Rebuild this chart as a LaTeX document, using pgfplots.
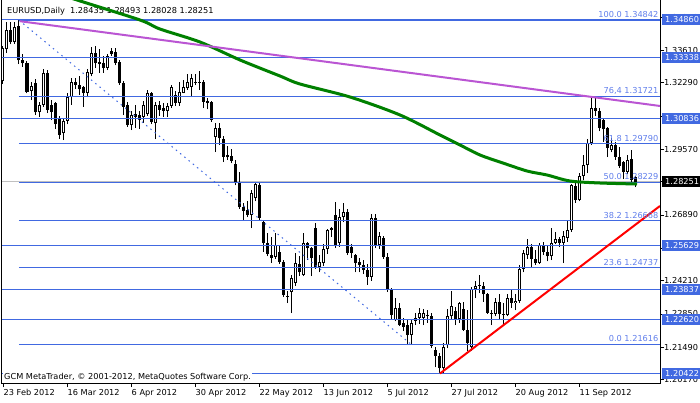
\documentclass[border=0pt]{standalone}
\usepackage{pgfplots}
\pgfplotsset{compat=1.18}
\usepackage{pgfplotstable}
\usepackage{fontspec}
\setmainfont{DejaVu Sans}
\definecolor{rblue}{RGB}{65,105,225}
\definecolor{fibtext}{RGB}{95,125,235}
\definecolor{maG}{RGB}{0,128,0}
\definecolor{orchid}{RGB}{186,85,211}
\definecolor{bidgray}{RGB}{192,192,192}
\pgfplotstableread{
I O H L C
0 1.3235 1.3380 1.3225 1.3370
1 1.3365 1.3475 1.3350 1.3445
2 1.3445 1.3478 1.3385 1.3395
3 1.3395 1.3478 1.3388 1.3455
4 1.3460 1.3486 1.3305 1.3320
5 1.3320 1.3345 1.3295 1.3308
6 1.3308 1.3318 1.3185 1.3193
7 1.3195 1.3232 1.3158 1.3215
8 1.3228 1.3245 1.3098 1.3108
9 1.3108 1.3150 1.3090 1.3140
10 1.3140 1.3285 1.3130 1.3268
11 1.3268 1.3280 1.3105 1.3118
12 1.3140 1.3160 1.3076 1.3110
13 1.3145 1.3150 1.3040 1.3060
14 1.3085 1.3095 1.3000 1.3016
15 1.3022 1.3085 1.2995 1.3074
16 1.3074 1.3185 1.3060 1.3169
17 1.3172 1.3250 1.3140 1.3233
18 1.3233 1.3250 1.3205 1.3220
19 1.3220 1.3255 1.3180 1.3202
20 1.3210 1.3215 1.3130 1.3188
21 1.3188 1.3285 1.3170 1.3274
22 1.3265 1.3376 1.3255 1.3349
23 1.3349 1.3380 1.3290 1.3308
24 1.3315 1.3365 1.3270 1.3305
25 1.3311 1.3340 1.3270 1.3290
26 1.3290 1.3345 1.3280 1.3338
27 1.3360 1.3370 1.3340 1.3346
28 1.3356 1.3370 1.3300 1.3311
29 1.3315 1.3320 1.3220 1.3226
30 1.3229 1.3235 1.3097 1.3131
31 1.3138 1.3150 1.3050 1.3056
32 1.3056 1.3115 1.3035 1.3097
33 1.3101 1.3140 1.3045 1.3090
34 1.3097 1.3115 1.3040 1.3077
35 1.3090 1.3155 1.3065 1.3138
36 1.3101 1.3200 1.3095 1.3185
37 1.3185 1.3190 1.3060 1.3070
38 1.3063 1.3150 1.2999 1.3138
39 1.3138 1.3155 1.3095 1.3118
40 1.3126 1.3145 1.3090 1.3115
41 1.3115 1.3145 1.3090 1.3134
42 1.3134 1.3220 1.3125 1.3210
43 1.3178 1.3195 1.3135 1.3147
44 1.3147 1.3230 1.3135 1.3192
45 1.3188 1.3240 1.3185 1.3210
46 1.3206 1.3265 1.3200 1.3233
47 1.3213 1.3265 1.3170 1.3247
48 1.3232 1.3265 1.3218 1.3228
49 1.3230 1.3275 1.3200 1.3228
50 1.3233 1.3238 1.3125 1.3151
51 1.3154 1.3165 1.3120 1.3146
52 1.3150 1.3155 1.3070 1.3076
53 1.3007 1.3065 1.2946 1.3044
54 1.3044 1.3065 1.2975 1.3003
55 1.2999 1.3010 1.2905 1.2926
56 1.2932 1.2970 1.2914 1.2924
57 1.2930 1.2960 1.2900 1.2910
58 1.2897 1.2915 1.2810 1.2819
59 1.2819 1.2864 1.2715 1.2721
60 1.2721 1.2740 1.2668 1.2705
61 1.2708 1.2745 1.2680 1.2690
62 1.2690 1.2790 1.2635 1.2778
63 1.2758 1.2820 1.2745 1.2815
64 1.2811 1.2820 1.2665 1.2676
65 1.2660 1.2670 1.2538 1.2574
66 1.2574 1.2615 1.2520 1.2530
67 1.2527 1.2600 1.2495 1.2515
68 1.2518 1.2615 1.2510 1.2566
69 1.2538 1.2566 1.2490 1.2497
70 1.2497 1.2505 1.2355 1.2362
71 1.2355 1.2380 1.2329 1.2360
72 1.2376 1.2445 1.2288 1.2432
73 1.2411 1.2535 1.2400 1.2493
74 1.2490 1.2520 1.2440 1.2455
75 1.2444 1.2615 1.2440 1.2575
76 1.2575 1.2580 1.2505 1.2554
77 1.2554 1.2560 1.2440 1.2513
78 1.2636 1.2655 1.2470 1.2476
79 1.2476 1.2525 1.2455 1.2497
80 1.2493 1.2570 1.2480 1.2550
81 1.2550 1.2632 1.2530 1.2628
82 1.2628 1.2640 1.2600 1.2636
83 1.2689 1.2742 1.2555 1.2566
84 1.2574 1.2712 1.2560 1.2681
85 1.2681 1.2738 1.2660 1.2701
86 1.2701 1.2715 1.2525 1.2534
87 1.2558 1.2570 1.2515 1.2534
88 1.2526 1.2530 1.2455 1.2493
89 1.2497 1.2515 1.2455 1.2485
90 1.2485 1.2505 1.2448 1.2465
91 1.2465 1.2490 1.2405 1.2436
92 1.2436 1.2692 1.2420 1.2677
93 1.2677 1.2692 1.2555 1.2566
94 1.2566 1.2620 1.2550 1.2603
95 1.2595 1.2605 1.2510 1.2518
96 1.2517 1.2535 1.2375 1.2383
97 1.2384 1.2390 1.2265 1.2280
98 1.2260 1.2350 1.2255 1.2309
99 1.2309 1.2330 1.2235 1.2240
100 1.2248 1.2270 1.2215 1.2232
101 1.2240 1.2260 1.2158 1.2199
102 1.2199 1.2260 1.2162 1.2248
103 1.2258 1.2290 1.2240 1.2268
104 1.2268 1.2310 1.2245 1.2289
105 1.2268 1.2305 1.2240 1.2289
106 1.2276 1.2300 1.2250 1.2277
107 1.2276 1.2290 1.2145 1.2155
108 1.2140 1.2150 1.2067 1.2115
109 1.2113 1.2125 1.2042 1.2065
110 1.2065 1.2165 1.2045 1.2150
111 1.2157 1.2305 1.2145 1.2276
112 1.2275 1.2378 1.2265 1.2317
113 1.2296 1.2315 1.2240 1.2264
114 1.2264 1.2335 1.2250 1.2330
115 1.2305 1.2335 1.2215 1.2220
116 1.2220 1.2300 1.2135 1.2165
117 1.2150 1.2395 1.2135 1.2385
118 1.2385 1.2420 1.2350 1.2400
119 1.2400 1.2445 1.2370 1.2405
120 1.2400 1.2415 1.2335 1.2365
121 1.2365 1.2370 1.2285 1.2290
122 1.2290 1.2300 1.2240 1.2285
123 1.2285 1.2350 1.2275 1.2335
124 1.2335 1.2365 1.2260 1.2285
125 1.2285 1.2330 1.2240 1.2280
126 1.2280 1.2365 1.2275 1.2350
127 1.2350 1.2385 1.2310 1.2330
128 1.2330 1.2365 1.2300 1.2340
129 1.2340 1.2485 1.2330 1.2470
130 1.2470 1.2545 1.2455 1.2535
131 1.2525 1.2590 1.2510 1.2558
132 1.2558 1.2570 1.2475 1.2509
133 1.2509 1.2545 1.2485 1.2493
134 1.2495 1.2575 1.2490 1.2565
135 1.2565 1.2580 1.2525 1.2540
136 1.2540 1.2565 1.2500 1.2520
137 1.2520 1.2636 1.2505 1.2575
138 1.2575 1.2620 1.2570 1.2590
139 1.2590 1.2600 1.2560 1.2575
140 1.2575 1.2625 1.2493 1.2605
141 1.2595 1.2665 1.2580 1.2627
142 1.2627 1.2815 1.2620 1.2811
143 1.2807 1.2820 1.2740 1.2750
144 1.2750 1.2860 1.2745 1.2850
145 1.2848 1.2935 1.2830 1.2893
146 1.2893 1.3000 1.2860 1.2983
147 1.2983 1.3168 1.2975 1.3126
148 1.3126 1.3172 1.3095 1.3115
149 1.3113 1.3125 1.3030 1.3044
150 1.3075 1.3085 1.2987 1.3040
151 1.3044 1.3050 1.2925 1.2963
152 1.2955 1.3005 1.2945 1.2975
153 1.2975 1.2985 1.2915 1.2926
154 1.2926 1.2965 1.2880 1.2889
155 1.2905 1.2910 1.2835 1.2864
156 1.2864 1.2935 1.2855 1.2913
157 1.2917 1.2954 1.2820 1.2831
158 1.28435 1.28493 1.28028 1.28251
}\candles
\tikzset{pbox/.style={anchor=west, fill=rblue, text=white, inner xsep=3pt, inner ysep=0pt, minimum height=11pt, text width=34pt, align=left, xshift=2pt},
  fibl/.style={anchor=south east, inner sep=0pt, text=fibtext, yshift=2pt}}
\begin{document}
\begin{tikzpicture}[x=1pt,y=1pt,font=\fontsize{8.2}{10}\selectfont]
\useasboundingbox (0,0) rectangle (700,402);
\node[anchor=west,inner sep=0pt] at (7,391) {EURUSD,Daily\ \ 1.28435 1.28493 1.28028 1.28251};
\begin{axis}[
  at={(2pt,19pt)}, anchor=south west, scale only axis,
  width=658pt, height=383pt,
  xmin=-0.25, xmax=164.25, ymin=1.200329, ymax=1.356655,
  clip mode=individual,
  axis line style={draw=none},
  xtick pos=bottom, ytick pos=right, yticklabel pos=right,
  tick align=outside, major tick length=4pt,
  tick style={black, line width=0.8pt},
  tick label style={font=\fontsize{8.2}{10}\selectfont},
  xtick={0,16,32,48,64,80,96,112,128,144},
  xticklabels={23 Feb 2012,16 Mar 2012,6 Apr 2012,30 Apr 2012,22 May 2012,13 Jun 2012,5 Jul 2012,27 Jul 2012,20 Aug 2012,11 Sep 2012},
  xticklabel style={anchor=north west, inner sep=0pt, xshift=0.5pt, yshift=-2pt},
  ytick={1.20170,1.21490,1.22850,1.24210,1.25530,1.26890,1.28250,1.29570,1.30930,1.32290,1.33610,1.34970},
  yticklabels={1.20170,1.21490,1.22850,1.24210,{},1.26890,{},1.29570,{},1.32290,1.33610,1.34970},
  yticklabel style={anchor=west, inner sep=0pt},
]
% bid line
\addplot[bidgray, line width=1pt] coordinates {(-0.25,1.28251) (164.25,1.28251)};
% candles: wicks, bodies, bullish interiors
\addplot[black, line width=1pt, -, quiver={u=0, v=\thisrow{H}-\thisrow{L}}] table[x=I, y=L] {\candles};
\addplot[black, line width=3pt, -, quiver={u=0, v={max(abs(\thisrow{C}-\thisrow{O}),0.00041)}}] table[x=I, y expr={min(\thisrow{O},\thisrow{C})}] {\candles};
\addplot[white, line width=1pt, -, quiver={u=0, v={(\thisrow{C}-\thisrow{O}>0.0009) ? (\thisrow{C}-\thisrow{O}-0.00082) : 0}}] table[x=I, y expr={\thisrow{O}+0.00041}] {\candles};
% horizontal levels
\addplot[rblue, line width=1pt] coordinates {(-0.25,1.34860) (164.25,1.34860)};
\addplot[rblue, line width=1pt] coordinates {(-0.25,1.33338) (164.25,1.33338)};
\addplot[rblue, line width=1pt] coordinates {(-0.25,1.30836) (164.25,1.30836)};
\addplot[rblue, line width=1pt] coordinates {(-0.25,1.25629) (164.25,1.25629)};
\addplot[rblue, line width=1pt] coordinates {(-0.25,1.23837) (164.25,1.23837)};
\addplot[rblue, line width=1pt] coordinates {(-0.25,1.22620) (164.25,1.22620)};
\addplot[rblue, line width=1pt] coordinates {(-0.25,1.20422) (164.25,1.20422)};
% fibonacci levels
\addplot[rblue, line width=1pt] coordinates {(4,1.34842) (164.25,1.34842)};
\addplot[rblue, line width=1pt] coordinates {(4,1.31721) (164.25,1.31721)};
\addplot[rblue, line width=1pt] coordinates {(4,1.29790) (164.25,1.29790)};
\addplot[rblue, line width=1pt] coordinates {(4,1.28229) (164.25,1.28229)};
\addplot[rblue, line width=1pt] coordinates {(4,1.26668) (164.25,1.26668)};
\addplot[rblue, line width=1pt] coordinates {(4,1.24737) (164.25,1.24737)};
\addplot[rblue, line width=1pt] coordinates {(4,1.21616) (164.25,1.21616)};
\addplot[rblue, line width=1pt, dash pattern=on 1.5pt off 4pt] coordinates {(4,1.34842) (102,1.21616)};
% moving average
\addplot[maG, line width=3pt, smooth] coordinates {(9.25,1.3616) (18.5,1.35666) (34.25,1.34849) (39.25,1.3448) (49.25,1.33951) (59.25,1.33217) (69.25,1.32563) (74.25,1.32237) (86.75,1.31706) (99.25,1.30972) (109.25,1.30155) (114.25,1.29747) (119.25,1.29339) (124.25,1.29053) (131,1.28686) (136,1.28523) (141.75,1.28278) (149.25,1.28196) (158.5,1.28155)};
% trend lines
\addplot[orchid, line width=2pt] coordinates {(4.25,1.3480) (164.25,1.3134)};
\addplot[red, line width=2pt] coordinates {(109.25,1.20422) (164.25,1.2726)};
% fib labels
\node[fibl] at (axis cs:163.9,1.34842) {100.0 1.34842};
\node[fibl] at (axis cs:163.9,1.31721) {76,4 1.31721};
\node[fibl] at (axis cs:163.9,1.29790) {61.8 1.29790};
\node[fibl] at (axis cs:163.9,1.28229) {50.0 1.28229};
\node[fibl] at (axis cs:163.9,1.26668) {38.2 1.26668};
\node[fibl] at (axis cs:163.9,1.24737) {23.6 1.24737};
\node[fibl] at (axis cs:163.9,1.21616) {0.0 1.21616};
% price boxes
\node[pbox] at (axis cs:164.25,1.34860) {1.34860};
\node[pbox] at (axis cs:164.25,1.33338) {1.33338};
\node[pbox] at (axis cs:164.25,1.30836) {1.30836};
\node[pbox] at (axis cs:164.25,1.25629) {1.25629};
\node[pbox] at (axis cs:164.25,1.23837) {1.23837};
\node[pbox] at (axis cs:164.25,1.22620) {1.22620};
\node[pbox] at (axis cs:164.25,1.20422) {1.20422};
\node[pbox, fill=black] at (axis cs:164.25,1.28251) {1.28251};
% frame
\draw[black, line width=1pt] (rel axis cs:0,1) -- (rel axis cs:0,0) -- (rel axis cs:1,0) -- (rel axis cs:1,1);
\end{axis}
\node[anchor=west, fill=white, inner xsep=1pt, inner ysep=1pt] at (3,25) {GCM MetaTrader, © 2001-2012, MetaQuotes Software Corp.};
\end{tikzpicture}
\end{document}
